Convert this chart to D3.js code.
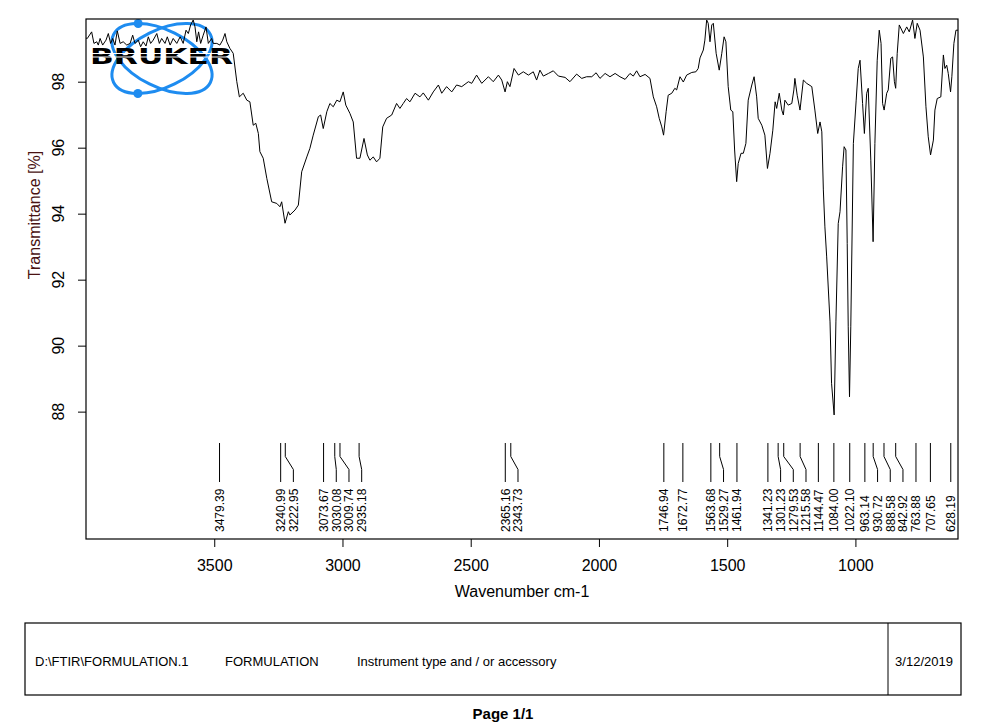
<!DOCTYPE html>
<html><head><meta charset="utf-8">
<script src="https://cdn.jsdelivr.net/npm/d3@7"></script>
<style>body{margin:0;background:#fff;} svg{display:block;}</style>
</head><body><svg id="c" width="984" height="723"></svg>
<script>
// ---- data ----
const wavenumbers = [
  4000,3995,3978,3969,3958,3952,3945,3935,3922,3913,3904,3896,3887,3878,3867,3855,3841,3828,3818,3809,
  3796,3787,3777,3766,3757,3748,3738,3724,3714,3705,3692,3683,3672,3660,3646,3633,3621,3610,3601,3592,
  3582,3575,3568,3561,3553,3543,3532,3523,3510,3504,3490,3478,3467,3458,3451,3439,3426,
  3412,3402,3387,3373,3361,3348,3338,3328,3322,3309,
  3295,3276,3256,3244,3237,3224,3211,3205,3185,3172,
  3159,3139,3127,3114,3094,3085,3075,3061,3049,3036,
  3022,3010,2997,2987,2971,2958,2945,2932,2916,2903,
  2893,2880,2867,2854,2843,2828,2808,2789,2776,2763,
  2750,2737,2717,2698,2685,2665,2646,2626,2613,2594,
  2574,2555,2535,2509,2496,2477,2457,2431,2412,2392,
  2379,2366,2357,2347,2331,2314,2295,2275,2256,2243,
  2230,2217,2197,2178,2158,2132,2113,2087,2067,2048,
  2028,2011,1996,1976,1957,1937,1918,1898,1879,1866,
  1853,1840,1820,1801,1788,1775,1765,1755,1748,1738,
  1730,1716,1704,1697,1684,1671,1658,1638,1622,1613,
  1606,1593,1587,1580,1574,1567,1560,1554,1543,1531,
  1521,1512,1505,1496,1486,1478,1471,1463,1457,1446,
  1437,1427,1418,1404,1395,1385,1379,1365,1353,1343,
  1333,1322,1313,1307,1297,1287,1281,1275,1262,1248,
  1240,1236,1227,1216,1203,1190,1170,1158,1147,1138,
  1131,1125,1119,1112,1099,1093,1083,1076,1067,1060,
  1050,1044,1037,1032,1028,1023,1018,1008,997,989,
  982,972,965,956,950,940,931,924,915,907,
  900,894,888,878,872,862,855,848,843,837,
  829,813,800,790,777,768,759,748,735,725,
  716,707,696,690,681,667,657,651,644,638,
  629,624,616,608,600
];
const transmittance = [
  99.32,99.31,99.51,99.16,99.21,99.11,99.31,99.11,99.26,99.46,99.16,99.31,99.11,99.54,99.16,99.21,99.11,99.16,99.41,99.16,
  99.26,99.06,99.21,99.08,99.36,99.16,99.26,99.46,99.16,99.31,99.16,99.36,99.11,99.31,99.16,99.36,99.16,99.56,99.46,99.72,
  99.87,99.66,99.21,99.51,99.16,99.41,99.66,99.16,99.31,99.16,99.16,99.11,99.26,99.46,99.21,99.01,98.86,
  98.0,97.54,97.65,97.44,97.39,96.68,96.74,96.43,95.88,95.68,
  95.07,94.36,94.31,94.21,94.36,93.71,94.06,93.96,94.11,94.26,
  95.27,95.72,95.98,96.38,96.94,96.99,96.58,97.09,97.34,97.24,
  97.44,97.39,97.69,97.29,97.04,96.78,95.68,95.68,96.28,95.78,
  95.62,95.72,95.57,95.68,96.63,96.89,96.99,97.34,97.19,97.34,
  97.49,97.39,97.65,97.54,97.66,97.44,97.69,97.90,97.65,97.85,
  97.69,97.90,97.85,98.0,97.95,98.20,97.95,98.15,98.0,98.20,
  98.05,97.69,98.0,97.85,98.40,98.20,98.30,98.20,98.30,98.05,
  98.35,98.17,98.25,98.33,98.17,98.13,98.0,98.23,98.10,98.15,
  98.15,98.27,98.10,98.25,98.15,98.25,98.15,98.07,98.25,98.17,
  98.33,98.15,98.22,98.10,97.54,97.24,96.89,96.63,96.38,97.09,
  97.59,97.65,97.80,97.75,98.15,97.99,98.20,98.28,98.30,98.40,
  98.72,98.96,99.26,99.87,99.77,99.21,99.72,99.77,98.86,98.35,
  98.86,99.36,99.21,97.85,97.14,97.09,95.93,94.97,95.52,95.83,
  95.83,96.13,97.44,97.90,98.15,97.54,96.89,96.68,96.38,95.37,
  95.83,96.53,97.39,97.19,97.65,97.14,96.99,97.44,97.29,97.34,
  97.75,98.10,97.59,97.14,98.05,97.95,97.85,97.14,96.43,96.78,
  96.48,94.72,93.60,92.69,90.72,88.86,87.90,90.72,93.70,94.06,
  95.42,96.03,95.93,93.10,90.57,88.45,90.57,96.13,97.44,98.40,
  98.65,97.34,96.43,97.65,97.80,95.62,93.15,96.13,98.65,99.56,
  99.16,97.34,97.14,97.65,97.75,98.71,98.75,98.0,97.80,98.86,
  99.72,99.46,99.66,99.51,99.87,99.31,99.77,99.56,98.75,97.24,
  96.33,95.78,96.23,97.14,97.49,97.54,98.81,98.40,98.50,98.25,
  97.69,98.15,99.16,99.56,99.56
];
const peakLabels = ["3479.39","3240.99","3222.95","3073.67","3030.08","3009.74","2935.18",
  "2365.16","2343.73","1746.94","1672.77","1563.68","1529.27","1461.94","1341.23","1301.23",
  "1279.53","1215.58","1144.47","1084.00","1022.10","963.14","930.72","888.58","842.92",
  "763.88","707.65","628.19"];
const xTicks = [3500, 3000, 2500, 2000, 1500, 1000];
const yTicks = [88, 90, 92, 94, 96, 98];
const xTitle = "Wavenumber cm-1";
const yTitle = "Transmittance [%]";
const footerLeft = ["D:\\FTIR\\FORMULATION.1", "FORMULATION", "Instrument type and / or accessory"];
const footerDate = "3/12/2019";
const pageText = "Page 1/1";

// ---- drawing ----
const svg = d3.select("#c");
const FONT = "'Liberation Sans', Arial, sans-serif";
const L = 86, R = 958, T = 19, B = 539;
const x = d3.scaleLinear().domain([4000, 600]).range([L, R]);
const y = d3.scaleLinear().domain([84.14, 99.9]).range([B, T]);

// logo (ellipses behind data)
const logo = svg.append("g");
const cx = 162, cy = 58.5, rx = 54, ry = 28.4, ang = 26.4;
[ang, -ang].forEach(a => {
  logo.append("ellipse").attr("cx", cx).attr("cy", cy).attr("rx", rx).attr("ry", ry)
    .attr("transform", `rotate(${a},${cx},${cy})`)
    .attr("fill", "none").attr("stroke", "#1e8cf0").attr("stroke-width", 3);
  // dot at extreme (top for +a, bottom for -a)
  const th = a * Math.PI / 180;
  let best = null;
  for (let t = 0; t < Math.PI * 2; t += 0.01) {
    const px = rx * Math.cos(t) * Math.cos(th) - ry * Math.sin(t) * Math.sin(th);
    const py = rx * Math.cos(t) * Math.sin(th) + ry * Math.sin(t) * Math.cos(th);
    const score = a > 0 ? py : -py;
    if (!best || score < best.s) best = {s: score, px, py};
  }
  logo.append("circle").attr("cx", cx + best.px).attr("cy", cy + best.py).attr("r", 4.5).attr("fill", "#1e8cf0");
});

// spectrum
const pts = wavenumbers.map((w, i) => [w, transmittance[i]]);
svg.append("path").datum(pts)
  .attr("d", d3.line().x(d => x(d[0])).y(d => y(d[1])))
  .attr("fill", "none").attr("stroke", "#000").attr("stroke-width", 1);

// logo text
const lt = logo.append("g");
lt.append("text").attr("x", 90).attr("y", 63.5).text("BRUKER")
  .attr("font-family", "'DejaVu Sans', sans-serif").attr("font-weight", "bold")
  .attr("font-size", 21.5).attr("textLength", 143).attr("lengthAdjust", "spacingAndGlyphs")
  .attr("fill", "#000");
[53.5, 57].forEach(yy => lt.append("line").attr("x1", 90).attr("x2", 234)
  .attr("y1", yy).attr("y2", yy).attr("stroke", "#fff").attr("stroke-width", 1));

// frame
svg.append("rect").attr("x", L).attr("y", T).attr("width", R - L).attr("height", B - T)
  .attr("fill", "none").attr("stroke", "#000").attr("stroke-width", 1.2);

// axes
const xa = svg.append("g").attr("transform", `translate(0,${B})`)
  .call(d3.axisBottom(x).tickValues(xTicks).tickSize(8).tickPadding(13).tickFormat(d3.format("d")));
xa.select(".domain").remove();
xa.selectAll("line").attr("stroke", "#000");
xa.selectAll("text").attr("font-family", FONT).attr("font-size", 16).attr("fill", "#000");

const ya = svg.append("g").attr("transform", `translate(${L},0)`)
  .call(d3.axisLeft(y).tickValues(yTicks).tickSize(8).tickFormat(""));
ya.select(".domain").remove();
ya.selectAll("line").attr("stroke", "#000");
svg.selectAll(".ylab").data(yTicks).join("text")
  .attr("transform", d => `translate(64,${y(d)}) rotate(-90)`)
  .attr("text-anchor", "middle").attr("font-family", FONT).attr("font-size", 16).text(d => d);

svg.append("text").attr("x", (L + R) / 2).attr("y", 597).attr("text-anchor", "middle")
  .attr("font-family", FONT).attr("font-size", 16).text(xTitle);
svg.append("text").attr("transform", `translate(40,215) rotate(-90)`).attr("text-anchor", "middle")
  .attr("font-family", FONT).attr("font-size", 16).attr("fill", "#4a1212").text(yTitle);

// peak labels
const peaks = peakLabels.map(s => ({label: s, px: x(+s)})).sort((a, b) => a.px - b.px);
let prev = -Infinity;
peaks.forEach(p => { p.lx = Math.max(p.px, prev + 12.7); prev = p.lx; });
const pg = svg.append("g");
pg.selectAll("path").data(peaks).join("path")
  .attr("d", p => Math.abs(p.lx - p.px) < 0.5 ? `M${p.px},443V482` : `M${p.px},443V456.5L${p.lx},469.5V482`)
  .attr("fill", "none").attr("stroke", "#000").attr("stroke-width", 1);
pg.selectAll("text").data(peaks).join("text")
  .attr("transform", p => `translate(${p.lx + 4.4},532) rotate(-90)`)
  .attr("font-family", FONT).attr("font-size", 12).text(p => p.label);

// footer
svg.append("rect").attr("x", 25).attr("y", 623).attr("width", 936).attr("height", 72)
  .attr("fill", "none").attr("stroke", "#000").attr("stroke-width", 1.2);
svg.append("line").attr("x1", 888).attr("x2", 888).attr("y1", 623).attr("y2", 695).attr("stroke", "#000");
const fx = [35, 225, 357];
footerLeft.forEach((t, i) => svg.append("text").attr("x", fx[i]).attr("y", 666)
  .attr("font-family", FONT).attr("font-size", 13).text(t));
svg.append("text").attr("x", 924).attr("y", 666).attr("text-anchor", "middle")
  .attr("font-family", FONT).attr("font-size", 13).text(footerDate);
svg.append("text").attr("x", 503).attr("y", 719).attr("text-anchor", "middle")
  .attr("font-family", FONT).attr("font-size", 15).attr("font-weight", "bold").text(pageText);
</script></body></html>
